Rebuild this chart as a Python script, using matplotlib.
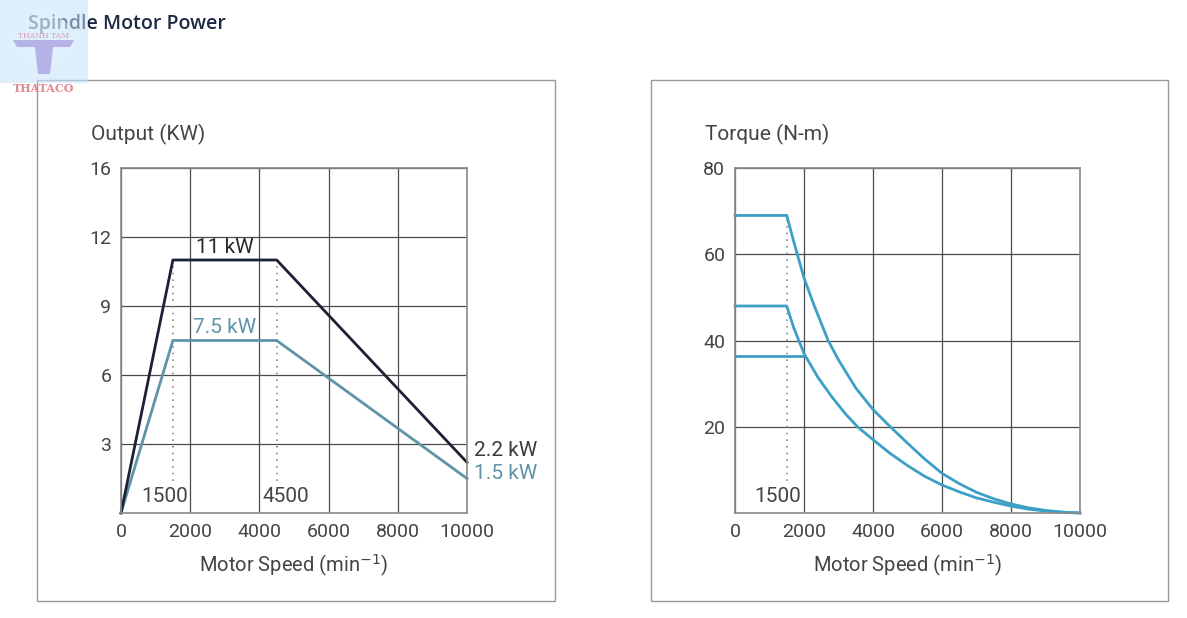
"""Spindle motor power / torque curves (two boxed panels)."""
import matplotlib
matplotlib.use("Agg")
import matplotlib.pyplot as plt
from matplotlib.patches import Rectangle, Polygon

# ---- data -------------------------------------------------------------
speed_ticks = [0, 2000, 4000, 6000, 8000, 10000]

out_speed = [0, 1500, 4500, 10000]
out_11kw = [0, 11.0, 11.0, 2.2]
out_75kw = [0, 7.5, 7.5, 1.5]
out_yticks = [3, 6, 9, 12, 15]
out_ylabels = ["3", "6", "9", "12", "16"]

tq_hi_speed = [0, 1500, 1700, 2000, 2300, 2700, 3000, 3500, 4000, 4500, 5000, 5500,
               6000, 6500, 7000, 7500, 8000, 8500, 9000, 9500, 10000]
tq_hi = [69, 69, 63, 54.5, 48, 40, 35.5, 29, 24, 20, 16.2, 12.5,
         9.2, 6.8, 4.8, 3.3, 2.1, 1.2, 0.6, 0.2, 0]
tq_mid_speed = [0, 1500, 1700, 2000, 2400, 2800, 3200, 3550, 4000, 4500, 5000, 5500,
                6000, 6500, 7000, 7500, 8000, 8500, 9000, 9500, 10000]
tq_mid = [48, 48, 43, 37, 31.5, 27, 23, 20, 17, 13.8, 11, 8.5,
          6.5, 4.9, 3.5, 2.5, 1.6, 0.9, 0.45, 0.15, 0]
tq_low_speed = [0, 2000]
tq_low = [36.5, 36.5]
tq_yticks = [20, 40, 60, 80]

TXT = "#444444"
GRID = "#4a4a4a"
DARK = "#1b2236"
LIGHT = "#5e93a9"
BLUE = "#3c9fc6"
FONT = "Roboto"

W, H = 1187, 618
fig = plt.figure(figsize=(W / 100, H / 100), dpi=100)


def fx(px):
    return px / W


def fy(py):
    return 1 - py / H


# panel frames
for x0, x1 in [(37, 555), (651, 1168)]:
    fig.patches.append(Rectangle((fx(x0), fy(601)), fx(x1 - x0), (601 - 80) / H,
                                 transform=fig.transFigure, fill=False,
                                 edgecolor="#9a9a9a", linewidth=1.0))


def style_axes(ax, yticks, ylabels):
    ax.set_xlim(0, 10000)
    ax.set_xticks(speed_ticks)
    ax.set_xticklabels([str(v) for v in speed_ticks])
    ax.set_yticks(yticks)
    ax.set_yticklabels(ylabels)
    ax.tick_params(length=0, labelsize=14, labelcolor=TXT, pad=7)
    for lab in ax.get_xticklabels() + ax.get_yticklabels():
        lab.set_fontfamily(FONT)
    ax.grid(True, color=GRID, linewidth=0.9)
    ax.set_axisbelow(True)
    for s in ax.spines.values():
        s.set_color("#8a8a8a")
        s.set_linewidth(1.2)
    ax.set_xlabel("Motor Speed (min$^{-1}$)", fontsize=14.5, color=TXT,
                  fontfamily=FONT, labelpad=9)


kw = dict(fontfamily=FONT, fontsize=15)

# ---- left: output ---------------------------------------------------
ax1 = fig.add_axes([fx(121), fy(513), fx(346), 345 / H])
ax1.set_ylim(0, 15)
style_axes(ax1, out_yticks, out_ylabels)
ax1.plot([out_speed[1]] * 2, [1.4, out_11kw[1]], ls=(0, (1, 3)), color="#8a8a8a", lw=1.2)
ax1.plot([out_speed[2]] * 2, [1.4, out_11kw[2]], ls=(0, (1, 3)), color="#8a8a8a", lw=1.2)
ax1.plot(out_speed, out_75kw, color=LIGHT, lw=2.0, clip_on=False)
ax1.plot(out_speed, out_11kw, color=DARK, lw=2.0, clip_on=False)
ax1.text(3000, 11.15, "11 kW", ha="center", va="bottom", color="#2a2a2a", **kw)
ax1.text(3000, 7.65, "7.5 kW", ha="center", va="bottom", color=LIGHT, **kw)
ax1.text(10200, 2.7, "2.2 kW", ha="left", va="center", color="#3a3a3a", **kw)
ax1.text(10200, 1.7, "1.5 kW", ha="left", va="center", color=LIGHT, **kw)
ax1.text(1250, 0.7, "1500", ha="center", va="center", color=TXT, **kw)
ax1.text(4750, 0.7, "4500", ha="center", va="center", color=TXT, **kw)
fig.text(fx(91), fy(134), "Output (KW)", ha="left", va="center", color=TXT,
         fontsize=15, fontfamily=FONT)

# ---- right: torque ---------------------------------------------------
ax2 = fig.add_axes([fx(735), fy(513), fx(345), 345 / H])
ax2.set_ylim(0, 80)
style_axes(ax2, tq_yticks, [str(v) for v in tq_yticks])
ax2.plot([tq_hi_speed[1]] * 2, [7.5, tq_hi[1]], ls=(0, (1, 3)), color="#8a8a8a", lw=1.2)
ax2.plot(tq_hi_speed, tq_hi, color=BLUE, lw=2.0, clip_on=False)
ax2.plot(tq_mid_speed, tq_mid, color=BLUE, lw=2.0, clip_on=False)
ax2.plot(tq_low_speed, tq_low, color=BLUE, lw=2.0, clip_on=False)
ax2.text(1250, 3.8, "1500", ha="center", va="center", color=TXT, **kw)
fig.text(fx(705), fy(134), "Torque (N-m)", ha="left", va="center", color=TXT,
         fontsize=15, fontfamily=FONT)

# ---- header & logo (logo sits semi-transparent over the title) -------
fig.text(fx(28), fy(24), "Spindle Motor Power", ha="left", va="center", color="#1d2a44",
         fontsize=14, fontfamily="Open Sans", fontweight="semibold", zorder=3)
fig.patches.append(Rectangle((0, fy(83)), fx(88), 83 / H, transform=fig.transFigure,
                             facecolor="#c4e2f8", edgecolor="none", alpha=0.55, zorder=4))
fig.patches.append(Polygon([(fx(44), fy(2)), (fx(87), fy(42)), (fx(44), fy(82)), (fx(1), fy(42))],
                           closed=True, transform=fig.transFigure,
                           facecolor="#e2f1fc", edgecolor="none", alpha=0.35, zorder=4))
# the "T" mark
fig.patches.append(Polygon([(fx(13), fy(40)), (fx(74), fy(40)), (fx(70), fy(47)), (fx(53), fy(47)),
                            (fx(50), fy(74)), (fx(38), fy(74)), (fx(35), fy(47)), (fx(17), fy(47))],
                           closed=True, transform=fig.transFigure,
                           facecolor="#b4b2e6", edgecolor="none", zorder=5))
fig.text(fx(44), fy(36), "THANH TAM", ha="center", va="center", color="#d9a0b0",
         fontsize=5.5, fontfamily="DejaVu Serif", zorder=6)
fig.text(fx(44), fy(88), "THATACO", ha="center", va="center", color="#e08a92",
         fontsize=8, fontfamily="DejaVu Serif", fontweight="bold")

fig.savefig("out.png", dpi=100)
